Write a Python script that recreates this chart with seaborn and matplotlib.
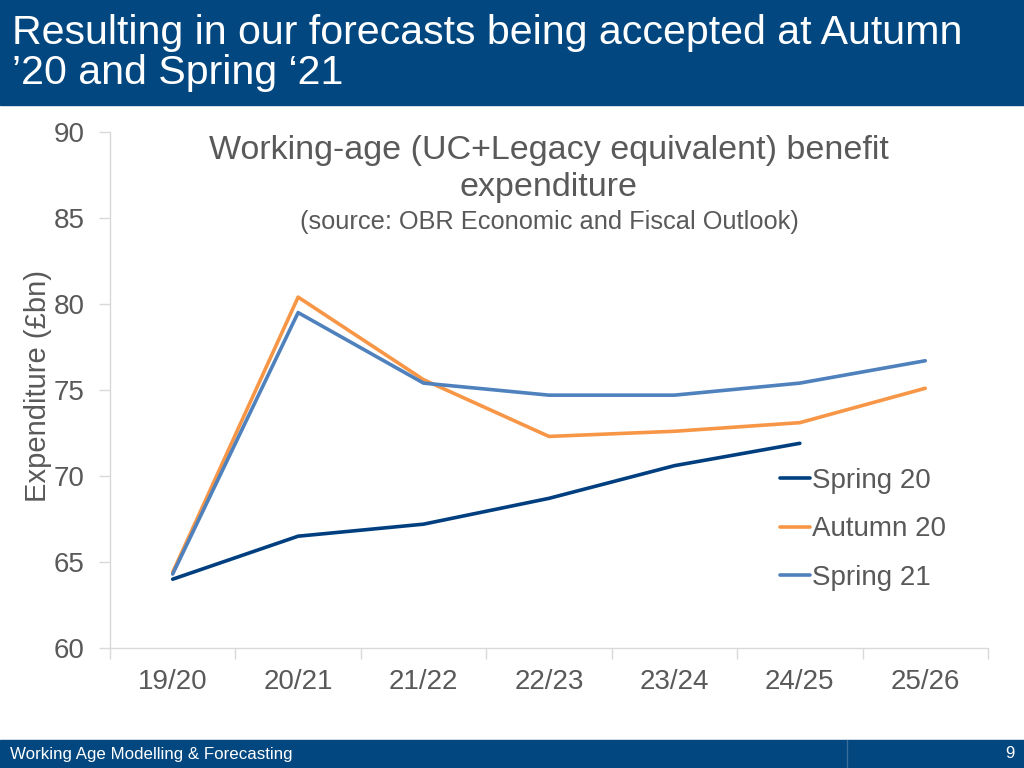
import numpy as np
import pandas as pd
import matplotlib
matplotlib.use("Agg")
import matplotlib.pyplot as plt
import seaborn as sns
from matplotlib.patches import Rectangle

# data
years = ["19/20", "20/21", "21/22", "22/23", "23/24", "24/25", "25/26"]
spring_20 = [64.0, 66.5, 67.2, 68.7, 70.6, 71.9, np.nan]
autumn_20 = [64.4, 80.4, 75.6, 72.3, 72.6, 73.1, 75.1]
spring_21 = [64.3, 79.5, 75.4, 74.7, 74.7, 75.4, 76.7]
series_names = ["Spring 20", "Autumn 20", "Spring 21"]
colours = ["#003f7f", "#f79646", "#4f81bd"]

df = pd.DataFrame({"Year": years * 3,
                   "Expenditure": spring_20 + autumn_20 + spring_21,
                   "Forecast": np.repeat(series_names, len(years))})

sns.set_style("white")
plt.rcParams["font.family"] = ["Liberation Sans", "DejaVu Sans"]
grey = "#595959"
navy = "#02477f"

fig = plt.figure(figsize=(10.24, 7.68), dpi=100)
ax = fig.add_axes([0.1074, 0.15625, 0.8574, 0.6719])

sns.lineplot(data=df, x="Year", y="Expenditure", hue="Forecast", hue_order=series_names,
             palette=colours, linewidth=2.6, ax=ax, sort=False)

ax.set_xlim(-0.5, len(years) - 0.5)
ax.set_ylim(60, 90)
ax.set_yticks(np.arange(60, 91, 5))
ax.set_xticks(np.arange(len(years)))
ax.set_xticklabels(years)
ax.set_xticks(np.arange(len(years) + 1) - 0.5, minor=True)
ax.tick_params(axis="x", which="major", length=0, labelsize=20, colors=grey, pad=15)
ax.tick_params(axis="x", which="minor", length=8, width=1, color="#d9d9d9", direction="out", bottom=True)
ax.tick_params(axis="y", length=8, width=1, color="#d9d9d9", labelsize=20, labelcolor=grey, left=True, pad=10)
for side in ["top", "right"]:
    ax.spines[side].set_visible(False)
for side in ["left", "bottom"]:
    ax.spines[side].set_color("#d9d9d9")
    ax.spines[side].set_linewidth(1)
ax.set_xlabel("")
ax.set_ylabel("Expenditure (£bn)", fontsize=21, color=grey)
ax.yaxis.set_label_coords(-0.066, 0.508)

ax.text(0.5, 0.995, "Working-age (UC+Legacy equivalent) benefit\nexpenditure",
        transform=ax.transAxes, ha="center", va="top", fontsize=24.5, color=grey, linespacing=1.25)
ax.text(0.5, 0.826, "(source: OBR Economic and Fiscal Outlook)",
        transform=ax.transAxes, ha="center", va="center", fontsize=18.3, color=grey)

leg = ax.legend(loc="upper left", bbox_to_anchor=(0.75, 0.37), frameon=False, fontsize=20,
                handlelength=1.1, handletextpad=0.05, labelspacing=0.8, borderaxespad=0)
for t in leg.get_texts():
    t.set_color(grey)

# slide header and footer
fig.patches.append(Rectangle((0, 1 - 105 / 768), 1, 105 / 768, transform=fig.transFigure,
                             color=navy, zorder=0))
fig.text(12 / 1024, 1 - 14 / 768, "Resulting in our forecasts being accepted at Autumn\n\u201920 and Spring \u201821",
         ha="left", va="top", fontsize=29.6, color="white", linespacing=1.08)
fig.patches.append(Rectangle((0, 0), 1, 28 / 768, transform=fig.transFigure, color=navy, zorder=0))
fig.add_artist(plt.Line2D([847 / 1024, 847 / 1024], [0, 28 / 768], transform=fig.transFigure,
                          color="#3a6d9a", linewidth=1))
fig.text(10 / 1024, 14 / 768, "Working Age Modelling & Forecasting", ha="left", va="center",
         fontsize=12.2, color="white")
fig.text(1015 / 1024, 14 / 768, "9", ha="right", va="center", fontsize=12.2, color="white")

plt.savefig("out.png", dpi=100)
